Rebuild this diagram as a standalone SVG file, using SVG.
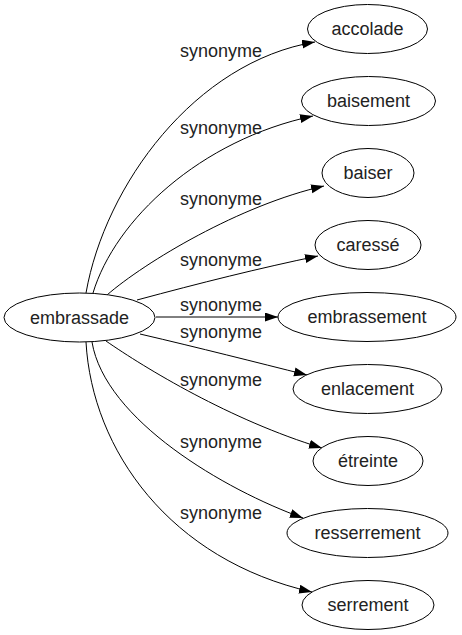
<svg xmlns="http://www.w3.org/2000/svg" width="462" height="635" viewBox="0 0 462 635">
<style>
.node ellipse{fill:#fff;stroke:#000;stroke-width:1}
text{font-family:"Liberation Sans",Arial,sans-serif;font-size:18px;fill:#222;text-anchor:middle}
.edges path{fill:none;stroke:#000;stroke-width:1;marker-end:url(#arr)}
</style>
<defs>
<marker id="arr" markerUnits="userSpaceOnUse" markerWidth="14" markerHeight="10" refX="13" refY="4.5" orient="auto">
<path d="M0,0 L13,4.5 L0,9 z" fill="#000"/>
</marker>
</defs>
<g class="edges">
<path d="M86,293 C105,185 195,62 315,42"/>
<path d="M93,293 C115,220 200,140 313,116"/>
<path d="M107,295 C145,262 240,205 324,186"/>
<path d="M137,300 C200,283 260,268 318,256"/>
<path d="M156,317 L278,317"/>
<path d="M140,334 C200,348 255,362 307,375"/>
<path d="M106,341 C145,368 230,420 322,448"/>
<path d="M92,342 C105,420 225,490 303,518"/>
<path d="M86,342 C92,450 170,560 312,592"/>
</g>
<g class="labels">
<text x="221" y="57">synonyme</text>
<text x="221" y="134">synonyme</text>
<text x="221" y="205">synonyme</text>
<text x="221" y="266">synonyme</text>
<text x="221" y="311">synonyme</text>
<text x="221" y="338">synonyme</text>
<text x="221" y="386">synonyme</text>
<text x="221" y="448">synonyme</text>
<text x="221" y="519">synonyme</text>
</g>
<g id="embrassade" class="node"><ellipse cx="79.5" cy="317.5" rx="75.5" ry="24.5"/><text x="79.5" y="323.5">embrassade</text></g>
<g id="accolade" class="node"><ellipse cx="367.5" cy="29" rx="60" ry="24.5"/><text x="367.5" y="35">accolade</text></g>
<g id="baisement" class="node"><ellipse cx="368.5" cy="101" rx="67" ry="24.5"/><text x="368.5" y="107">baisement</text></g>
<g id="baiser" class="node"><ellipse cx="368" cy="173" rx="46" ry="24.5"/><text x="368" y="179">baiser</text></g>
<g id="caresse" class="node"><ellipse cx="368" cy="245" rx="53" ry="24.5"/><text x="368" y="251">caressé</text></g>
<g id="embrassement" class="node"><ellipse cx="367" cy="317" rx="89" ry="24.5"/><text x="367" y="323">embrassement</text></g>
<g id="enlacement" class="node"><ellipse cx="367.5" cy="389" rx="74.5" ry="24.5"/><text x="367.5" y="395">enlacement</text></g>
<g id="etreinte" class="node"><ellipse cx="368" cy="461" rx="55" ry="24.5"/><text x="368" y="467">étreinte</text></g>
<g id="resserrement" class="node"><ellipse cx="367.5" cy="533" rx="80.5" ry="24.5"/><text x="367.5" y="539">resserrement</text></g>
<g id="serrement" class="node"><ellipse cx="368" cy="605" rx="66" ry="24.5"/><text x="368" y="611">serrement</text></g>
</svg>
